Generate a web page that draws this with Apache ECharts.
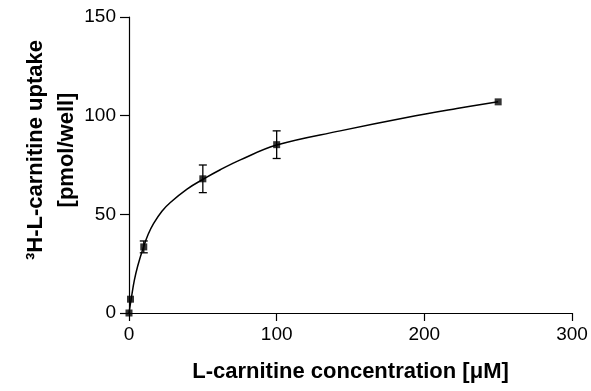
<!DOCTYPE html>
<html>
<head>
<meta charset="utf-8">
<script src="https://cdn.jsdelivr.net/npm/echarts@6/dist/echarts.min.js"></script>
<style>
  html, body { margin: 0; padding: 0; background: #fff; }
  #chart-container { width: 591px; height: 391px; }
</style>
</head>
<body>
<div id="chart-container"></div>
<script>
// measured points (mean, SD)
const concentration = [0, 1, 10, 50, 100, 250];
const uptake = [0, 7, 33.5, 68, 85.3, 107];
const uptakeSd = [0, 0, 3, 7, 7, 0];

// fitted curve
const fitX = [0, 1.5, 3.6, 5.9, 9.7, 13, 16.6, 22.3, 28, 39.3, 50, 61.8, 75.4, 100, 143, 188, 222, 250];
const fitY = [0, 7.2, 16.5, 23.8, 33.2, 39.9, 45.3, 51.6, 56.0, 62.8, 67.7, 72.6, 77.6, 85.1, 92.3, 99.1, 103.6, 107];

const xTicks = [0, 100, 200, 300];
const yTicks = [0, 50, 100, 150];

(() => {
  var dom = document.getElementById("chart-container");
  var chart = echarts.init(dom, null, { renderer: "canvas" });

  const axisLine = { show: true, onZero: false, lineStyle: { color: "#000", width: 1.2 } };
  const labelStyle = { color: "#000", fontSize: 19, fontFamily: "Liberation Sans" };
  const titleStyle = { color: "#000", fontSize: 22, fontWeight: "bold", fontFamily: "Liberation Sans" };

  const option = {
    animation: false,
    backgroundColor: "#fff",
    grid: { left: 129, right: 19, top: 17, bottom: 78, outerBoundsMode: "none", containLabel: false },
    xAxis: {
      type: "value",
      min: xTicks[0],
      max: xTicks[xTicks.length - 1],
      interval: 100,
      axisLine: axisLine,
      axisTick: { show: true, length: 8, lineStyle: { color: "#000", width: 1.2 } },
      splitLine: { show: false },
      axisLabel: { ...labelStyle, margin: 12 },
      name: "L-carnitine concentration [μM]",
      nameLocation: "middle",
      nameGap: 48,
      nameMoveOverlap: false,
      nameTextStyle: titleStyle,
    },
    yAxis: {
      type: "value",
      min: yTicks[0],
      max: yTicks[yTicks.length - 1],
      interval: 50,
      axisLine: axisLine,
      axisTick: { show: true, length: 9, lineStyle: { color: "#000", width: 1.2 } },
      splitLine: { show: false },
      axisLabel: { ...labelStyle, margin: 13 },
      name: "³H-L-carnitine uptake\n[pmol/well]",
      nameLocation: "middle",
      nameRotate: 90,
      nameGap: 47,
      nameMoveOverlap: false,
      nameTextStyle: { ...titleStyle, lineHeight: 31, padding: [0, 0, 0, 30] },
    },
    series: [
      {
        name: "fit",
        type: "line",
        smooth: 0.4,
        symbol: "none",
        lineStyle: { color: "#000", width: 1.5 },
        data: fitX.map((x, i) => [x, fitY[i]]),
        z: 2,
      },
      {
        name: "sd",
        type: "custom",
        renderItem: (params, api) => {
          const x = api.value(0);
          const lo = api.coord([x, api.value(1) - api.value(2)]);
          const hi = api.coord([x, api.value(1) + api.value(2)]);
          const w = 4;
          const st = { stroke: "#000", lineWidth: 1.3 };
          return {
            type: "group",
            children: [
              { type: "line", shape: { x1: lo[0], y1: lo[1], x2: hi[0], y2: hi[1] }, style: st },
              { type: "line", shape: { x1: lo[0] - w, y1: lo[1], x2: lo[0] + w, y2: lo[1] }, style: st },
              { type: "line", shape: { x1: hi[0] - w, y1: hi[1], x2: hi[0] + w, y2: hi[1] }, style: st },
            ],
          };
        },
        data: concentration
          .map((x, i) => [x, uptake[i], uptakeSd[i]])
          .filter((d) => d[2] > 0),
        z: 3,
      },
      {
        name: "uptake",
        type: "scatter",
        symbol: "rect",
        symbolSize: 7,
        clip: false,
        itemStyle: { color: "#000" },
        data: concentration.map((x, i) => [x, uptake[i]]),
        z: 4,
      },
    ],
  };

  chart.setOption(option);
  window.addEventListener("resize", chart.resize);
})();
</script>
</body>
</html>
